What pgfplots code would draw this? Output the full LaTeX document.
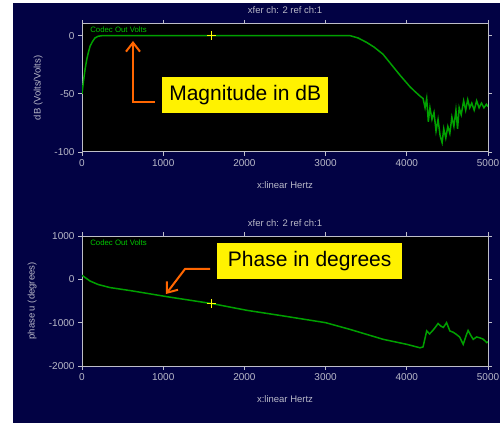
\documentclass[border=0pt]{standalone}
\usepackage{pgfplots}
\pgfplotsset{compat=1.18}
\usepackage{fontspec}
\setmainfont{Liberation Sans}
\usetikzlibrary{arrows.meta}
\definecolor{navy}{RGB}{2,2,68}
\definecolor{axgrey}{RGB}{190,190,200}
\definecolor{lblgrey}{RGB}{185,185,200}
\definecolor{trace}{RGB}{0,160,0}
\definecolor{legg}{RGB}{0,200,0}
\definecolor{annor}{RGB}{255,102,0}
\definecolor{cursor}{RGB}{255,255,0}

\tikzset{lbl/.style={font=\fontsize{9.5}{10}\selectfont, text=lblgrey}}
\pgfplotsset{
  scopestyle/.style={
    scale only axis, width=406pt,
    axis background/.style={fill=black},
    axis line style={draw=axgrey, line width=1pt},
    tick align=outside, major tick length=4pt,
    every tick/.style={draw=axgrey, line width=0.8pt},
    xmin=0, xmax=5000, xtick={0,1000,...,5000},
    scaled ticks=false,
    /pgf/number format/1000 sep={},
    /pgf/number format/assume math mode=true,
    tick label style={font=\fontsize{10}{10}\selectfont, text=lblgrey},
    clip=true,
  },
}

\begin{document}
\begin{tikzpicture}
\fill[white] (0,0) rectangle (500pt,423pt);
\fill[navy] (13pt,0) rectangle (500pt,420pt);

% ---------- Magnitude ----------
\begin{axis}[scopestyle, height=128pt,
  at={(82pt,271pt)}, anchor=south west,
  ymin=-100, ymax=10, ytick={-100,-50,0},
  title={xfer ch: 2 ref ch:1},
  every axis title/.style={lbl, at={(axis description cs:0.5,1.11)}, anchor=center},
  xlabel={x:linear Hertz},
  every axis x label/.style={lbl, at={(axis description cs:0.5,-0.258)}, anchor=center},
  ylabel={dB (Volts/Volts)},
  every axis y label/.style={lbl, at={(axis description cs:-0.108,0.5)}, rotate=90, anchor=center},
]
\addplot[trace, line width=1.5pt] coordinates {
(0,-50) (20,-38) (40,-28) (60,-20) (80,-14) (100,-9) (130,-5) (160,-2) (200,-0.5) (250,0)
(1000,0) (2000,0) (3000,0) (3300,0) (3400,-2) (3510,-6) (3600,-10) (3707,-16) (3800,-24)
(3916,-34) (4040,-44) (4100,-48) (4163,-52) (4200,-54)
(4225,-62) (4245,-54) (4265,-74) (4285,-62) (4310,-72) (4335,-66) (4360,-82) (4385,-72)
(4410,-86) (4435,-92) (4455,-80) (4480,-88) (4505,-78) (4530,-84) (4555,-70) (4580,-78)
(4605,-64) (4625,-80) (4645,-62) (4670,-68) (4700,-56) (4725,-64) (4750,-55) (4775,-62)
(4800,-58) (4830,-64) (4860,-56) (4890,-62) (4920,-58) (4950,-62) (4980,-59) (5000,-61)
};
\addplot[only marks, mark=+, mark size=4.5pt, cursor, mark options={line width=0.9pt}] coordinates {(1600,0)};
\node[anchor=west, text=legg, font=\fontsize{7.8}{8}\selectfont, inner sep=0]
  at (axis description cs:0.02,0.953) {Codec Out Volts};
\end{axis}

% ---------- Phase ----------
\begin{axis}[scopestyle, height=130pt,
  at={(82pt,57pt)}, anchor=south west,
  ymin=-2000, ymax=1000, ytick={-2000,-1000,0,1000},
  title={xfer ch: 2 ref ch:1},
  every axis title/.style={lbl, at={(axis description cs:0.5,1.10)}, anchor=center},
  xlabel={x:linear Hertz},
  every axis x label/.style={lbl, at={(axis description cs:0.5,-0.254)}, anchor=center},
  ylabel={phase u (degrees)},
  every axis y label/.style={lbl, at={(axis description cs:-0.123,0.5)}, rotate=90, anchor=center},
]
\addplot[trace, line width=1.5pt] coordinates {
(0,92) (100,-40) (200,-120) (345,-190) (630,-270) (1045,-400) (1600,-560) (2030,-715)
(2480,-845) (3000,-1000) (3300,-1155) (3710,-1385) (4000,-1500) (4163,-1580) (4200,-1560)
(4245,-1190) (4280,-1260) (4320,-1180) (4350,-1110) (4385,-1020) (4420,-1080) (4450,-1110)
(4490,-1000) (4530,-1190) (4570,-1220) (4610,-1270) (4650,-1330) (4695,-1500) (4730,-1300)
(4755,-1180) (4790,-1300) (4818,-1385) (4860,-1330) (4900,-1350) (4940,-1380) (4985,-1460) (5000,-1440)
};
\addplot[only marks, mark=+, mark size=4.5pt, cursor, mark options={line width=0.9pt}] coordinates {(1600,-560)};
\node[anchor=west, text=legg, font=\fontsize{7.8}{8}\selectfont, inner sep=0]
  at (axis description cs:0.02,0.946) {Codec Out Volts};
\end{axis}

% ---------- Annotations ----------
\node[fill=yellow, text=black, font=\fontsize{21}{21}\selectfont, minimum width=166pt,
  minimum height=36pt, anchor=south west, inner sep=0] at (162pt,310pt) {Magnitude in dB};
\draw[annor, line width=2pt, -{Straight Barb[length=9pt,width=14pt,line width=2pt]}]
  (155pt,321pt) -- (133pt,321pt) -- (133pt,382pt);

\node[fill=yellow, text=black, font=\fontsize{21}{21}\selectfont, minimum width=185pt,
  minimum height=36pt, anchor=south west, inner sep=0] at (217pt,144pt) {Phase in degrees};
\draw[annor, line width=2pt, -{Straight Barb[length=9pt,width=14pt,line width=2pt]}]
  (210pt,154pt) -- (185pt,154pt) -- (166pt,129pt);

\pgfresetboundingbox
\path (0,0) rectangle (500pt,423pt);
\end{tikzpicture}
\end{document}
